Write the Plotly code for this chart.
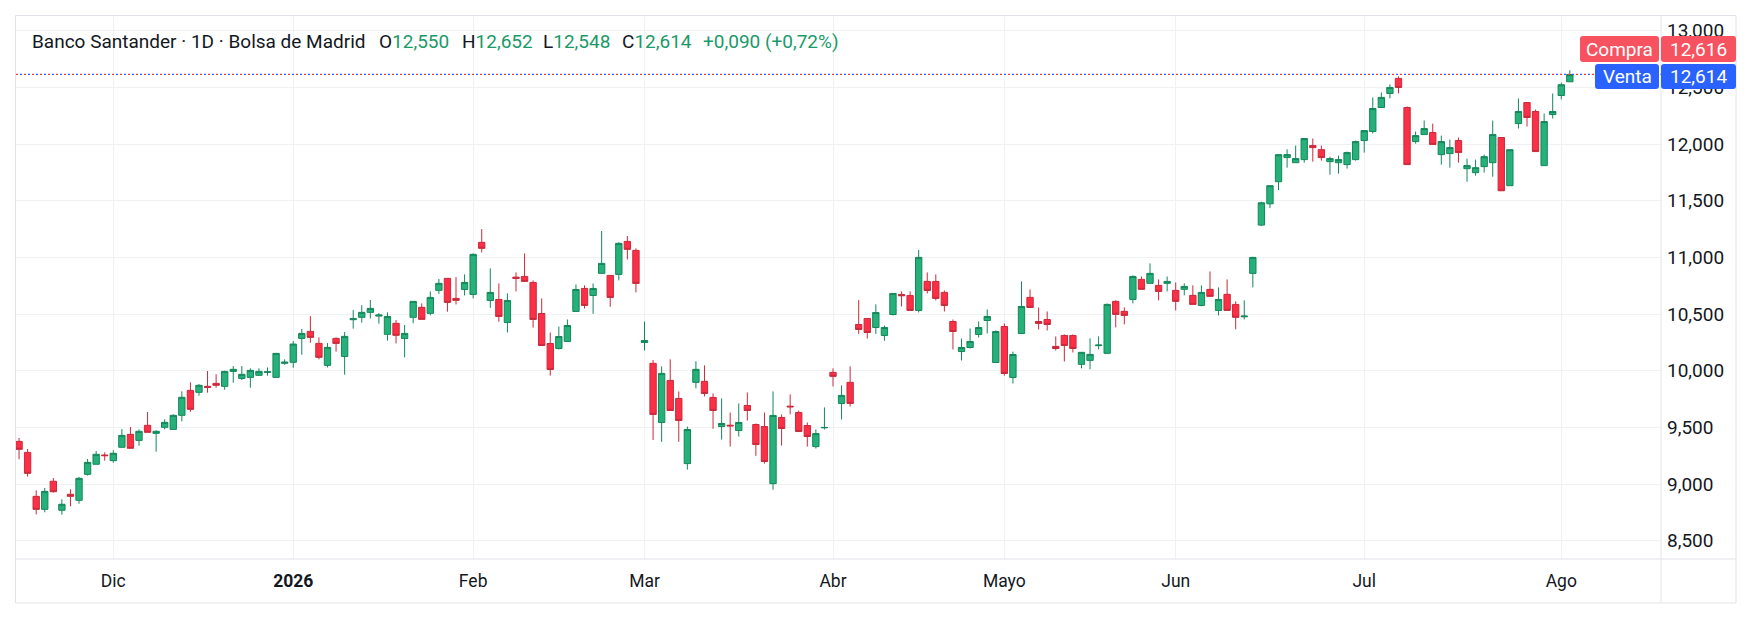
import pandas as pd
import plotly.graph_objects as go

# ---------------- data ----------------
holidays = ["2025-12-25", "2025-12-26", "2026-01-01", "2026-04-03", "2026-04-06", "2026-05-01"]
dates = [d.strftime("%Y-%m-%d") for d in pd.bdate_range("2025-11-14", "2026-08-04")
         if d.strftime("%Y-%m-%d") not in holidays]

open_ = [9.376, 9.279, 8.891, 8.776, 9.024, 8.768, 8.909, 8.856, 9.085, 9.174,
         9.256, 9.206, 9.324, 9.438, 9.385, 9.518, 9.447, 9.500, 9.482, 9.606,
         9.826, 9.809, 9.862, 9.888, 9.862, 9.994, 9.932, 9.941, 9.959, 9.985,
         9.941, 10.065, 10.074, 10.285, 10.347, 10.241, 10.047, 10.285, 10.126, 10.450,
         10.471, 10.515, 10.482, 10.321, 10.418, 10.285, 10.471, 10.559, 10.506, 10.709,
         10.815, 10.638, 10.717, 10.673, 11.133, 10.620, 10.629, 10.426, 10.826, 10.832,
         10.779, 10.505, 10.240, 10.196, 10.258, 10.523, 10.726, 10.664, 10.859, 10.841,
         10.850, 11.141, 11.062, 10.249, 10.065, 9.543, 9.914, 9.755, 9.180, 9.897,
         9.906, 9.764, 9.507, 9.519, 9.472, 9.693, 9.525, 9.507, 9.003, 9.587,
         9.687, 9.631, 9.516, 9.330, 9.496, 9.985, 9.711, 9.897, 10.408, 10.461,
         10.381, 10.311, 10.496, 10.673, 10.664, 10.532, 10.788, 10.788, 10.691, 10.434,
         10.169, 10.205, 10.320, 10.443, 10.072, 10.390, 9.940, 10.328, 10.647, 10.434,
         10.452, 10.214, 10.311, 10.311, 10.056, 10.091, 10.221, 10.153, 10.612, 10.524,
         10.629, 10.806, 10.771, 10.753, 10.771, 10.709, 10.718, 10.665, 10.576, 10.718,
         10.532, 10.674, 10.585, 10.476, 10.859, 11.285, 11.473, 11.668, 11.881, 11.836,
         11.863, 11.987, 11.951, 11.845, 11.836, 11.819, 11.863, 12.031, 12.111, 12.323,
         12.447, 12.580, 12.323, 12.022, 12.084, 12.102, 11.907, 11.916, 12.031, 11.783,
         11.748, 11.801, 11.836, 12.058, 11.633, 12.181, 12.367, 12.288, 11.810, 12.261,
         12.429, 12.550]
high = [9.406, 9.309, 8.944, 8.965, 9.053, 8.865, 8.953, 9.062, 9.221, 9.291,
        9.279, 9.297, 9.485, 9.503, 9.482, 9.635, 9.474, 9.571, 9.615, 9.818,
        9.897, 9.882, 9.997, 9.968, 10.000, 10.041, 10.041, 10.021, 10.021, 10.029,
        10.153, 10.100, 10.262, 10.368, 10.482, 10.294, 10.244, 10.294, 10.341, 10.535,
        10.579, 10.624, 10.509, 10.515, 10.447, 10.403, 10.612, 10.594, 10.700, 10.809,
        10.815, 10.826, 10.850, 11.035, 11.250, 10.903, 10.770, 10.682, 10.867, 11.035,
        10.797, 10.638, 10.337, 10.390, 10.452, 10.761, 10.753, 10.770, 11.233, 10.841,
        11.133, 11.189, 11.080, 10.434, 10.094, 10.038, 10.100, 9.817, 9.507, 10.083,
        10.047, 9.799, 9.755, 9.631, 9.711, 9.808, 9.534, 9.631, 9.817, 9.614,
        9.791, 9.649, 9.543, 9.481, 9.676, 10.021, 9.870, 10.038, 10.623, 10.461,
        10.585, 10.399, 10.682, 10.700, 10.700, 11.065, 10.867, 10.850, 10.708, 10.452,
        10.284, 10.373, 10.434, 10.540, 10.355, 10.417, 10.169, 10.788, 10.717, 10.558,
        10.523, 10.302, 10.320, 10.320, 10.165, 10.285, 10.303, 10.594, 10.621, 10.559,
        10.841, 10.832, 10.947, 10.806, 10.832, 10.779, 10.771, 10.753, 10.753, 10.876,
        10.735, 10.806, 10.612, 10.621, 11.005, 11.491, 11.633, 11.907, 11.954, 11.987,
        12.049, 12.049, 11.987, 11.889, 11.898, 11.934, 12.031, 12.119, 12.412, 12.456,
        12.527, 12.597, 12.332, 12.111, 12.208, 12.181, 12.075, 12.040, 12.058, 11.872,
        11.863, 11.907, 12.208, 12.058, 11.951, 12.403, 12.367, 12.305, 12.270, 12.447,
        12.544, 12.652]
low = [9.218, 9.065, 8.732, 8.750, 8.924, 8.729, 8.803, 8.826, 9.074, 9.174,
       9.206, 9.188, 9.324, 9.315, 9.338, 9.456, 9.285, 9.482, 9.482, 9.553,
       9.638, 9.779, 9.806, 9.850, 9.832, 9.894, 9.918, 9.850, 9.955, 9.956,
       9.941, 10.053, 10.026, 10.141, 10.247, 10.100, 10.029, 10.168, 9.965, 10.371,
       10.424, 10.462, 10.415, 10.265, 10.241, 10.118, 10.418, 10.453, 10.488, 10.679,
       10.521, 10.585, 10.664, 10.638, 11.044, 10.555, 10.432, 10.337, 10.700, 10.788,
       10.381, 10.222, 9.957, 10.187, 10.258, 10.523, 10.549, 10.502, 10.859, 10.564,
       10.797, 10.982, 10.691, 10.178, 9.389, 9.372, 9.649, 9.372, 9.127, 9.844,
       9.773, 9.487, 9.392, 9.330, 9.419, 9.560, 9.248, 9.180, 8.950, 9.339,
       9.614, 9.463, 9.330, 9.313, 9.481, 9.861, 9.569, 9.684, 10.325, 10.284,
       10.325, 10.264, 10.487, 10.567, 10.532, 10.514, 10.682, 10.620, 10.523, 10.187,
       10.090, 10.196, 10.293, 10.328, 10.072, 9.957, 9.887, 10.328, 10.558, 10.364,
       10.355, 10.178, 10.081, 10.161, 10.021, 10.012, 10.188, 10.153, 10.382, 10.409,
       10.594, 10.718, 10.771, 10.621, 10.700, 10.532, 10.665, 10.585, 10.568, 10.656,
       10.488, 10.532, 10.365, 10.453, 10.735, 11.276, 11.435, 11.594, 11.792, 11.836,
       11.836, 11.845, 11.854, 11.730, 11.739, 11.784, 11.854, 11.925, 12.093, 12.323,
       12.403, 12.447, 11.819, 12.004, 12.084, 11.996, 11.819, 11.792, 11.836, 11.668,
       11.721, 11.748, 11.712, 11.588, 11.633, 12.137, 12.155, 11.934, 11.810, 12.226,
       12.394, 12.548]
close = [9.306, 9.094, 8.776, 8.935, 8.932, 8.821, 8.891, 9.050, 9.191, 9.262,
         9.250, 9.271, 9.429, 9.315, 9.465, 9.456, 9.465, 9.544, 9.606, 9.765,
         9.659, 9.871, 9.853, 9.871, 9.994, 10.012, 9.968, 10.003, 9.994, 9.990,
         10.153, 10.076, 10.235, 10.329, 10.294, 10.118, 10.206, 10.241, 10.303, 10.459,
         10.515, 10.550, 10.491, 10.479, 10.312, 10.329, 10.612, 10.453, 10.647, 10.771,
         10.603, 10.621, 10.779, 11.027, 11.080, 10.691, 10.479, 10.620, 10.814, 10.788,
         10.452, 10.222, 10.010, 10.302, 10.399, 10.717, 10.576, 10.726, 10.947, 10.647,
         11.124, 11.071, 10.770, 10.267, 9.614, 9.976, 9.649, 9.560, 9.481, 10.012,
         9.799, 9.649, 9.534, 9.513, 9.543, 9.649, 9.348, 9.198, 9.605, 9.490,
         9.681, 9.463, 9.419, 9.445, 9.499, 9.950, 9.782, 9.711, 10.364, 10.337,
         10.514, 10.381, 10.682, 10.661, 10.532, 11.000, 10.708, 10.638, 10.576, 10.346,
         10.205, 10.258, 10.381, 10.479, 10.346, 9.975, 10.143, 10.567, 10.558, 10.417,
         10.408, 10.196, 10.222, 10.196, 10.162, 10.144, 10.226, 10.585, 10.497, 10.488,
         10.832, 10.718, 10.859, 10.700, 10.788, 10.612, 10.744, 10.585, 10.691, 10.656,
         10.629, 10.532, 10.471, 10.482, 11.000, 11.482, 11.633, 11.907, 11.907, 11.872,
         12.049, 11.969, 11.881, 11.872, 11.863, 11.925, 12.022, 12.119, 12.314, 12.412,
         12.500, 12.500, 11.819, 12.075, 12.137, 11.996, 12.022, 11.969, 11.925, 11.810,
         11.792, 11.889, 12.084, 11.588, 11.951, 12.288, 12.235, 11.934, 12.199, 12.288,
         12.524, 12.614]

tick_dates = ["2025-12-01", "2026-01-02", "2026-02-02", "2026-03-02", "2026-04-01",
              "2026-05-04", "2026-06-01", "2026-07-01", "2026-08-03"]
tick_text = ["Dic", "<b>2026</b>", "Feb", "Mar", "Abr", "Mayo", "Jun", "Jul", "Ago"]
y_ticks = [8.5, 9.0, 9.5, 10.0, 10.5, 11.0, 11.5, 12.0, 12.5, 13.0]
bid_price = 12.616
ask_price = 12.614
header_title = "Banco Santander · 1D · Bolsa de Madrid"
header_items = [("O", "12,550"), ("H", "12,652"), ("L", "12,548"), ("C", "12,614")]
header_change = "+0,090 (+0,72%)"

# ---------------- layout helpers ----------------
W, H = 1760, 620
PL, PR, PT, PB = 16, 1661, 16, 559
OUT_R, OUT_B = 1736, 603


def px(x):
    return (x - PL) / (PR - PL)


def py(y):
    return (PB - y) / (PB - PT)


def rrect(x0, y0, x1, y1, r=3):
    rx = r / (PR - PL)
    ry = r / (PB - PT)
    X0, X1 = px(x0), px(x1)
    Y0, Y1 = py(y1), py(y0)  # Y0 bottom, Y1 top
    return (f"M {X0+rx},{Y1} L {X1-rx},{Y1} Q {X1},{Y1} {X1},{Y1-ry} "
            f"L {X1},{Y0+ry} Q {X1},{Y0} {X1-rx},{Y0} L {X0+rx},{Y0} "
            f"Q {X0},{Y0} {X0},{Y0+ry} L {X0},{Y1-ry} Q {X0},{Y1} {X0+rx},{Y1} Z")


UP_FILL, UP_LINE = "#26b07a", "#14875a"
DN_FILL, DN_LINE = "#fb3046", "#c92a3c"
TXT = "#131722"
GREEN_TXT = "#1a9a68"
FONT = "Roboto"
HDR_SIZE = 19
AX_Y_SIZE = 19
AX_X_SIZE = 17.5

fig = go.Figure()
fig.add_trace(go.Candlestick(
    x=dates, open=open_, high=high, low=low, close=close,
    increasing=dict(fillcolor=UP_FILL, line=dict(color=UP_LINE, width=1)),
    decreasing=dict(fillcolor=DN_FILL, line=dict(color=DN_LINE, width=1)),
    whiskerwidth=0, showlegend=False, hoverinfo="x+y",
))

shapes = []
# price lines (dotted red/blue)
line_y = (bid_price + ask_price) / 2
shapes.append(dict(type="line", xref="paper", yref="y", x0=0, x1=1, y0=line_y, y1=line_y,
                   line=dict(color="#f23645", width=1.2, dash="2px,6px"), layer="above"))
shapes.append(dict(type="line", xref="paper", yref="y", x0=0, x1=1, y0=line_y, y1=line_y,
                   line=dict(color="#2962ff", width=1.2, dash="0px,4px,2px,2px"), layer="above"))
# frame
LINE_C = "#e0e3eb"
shapes.append(dict(type="rect", xref="paper", yref="paper", x0=px(15.5), x1=px(OUT_R), y0=py(OUT_B), y1=py(15.5),
                   line=dict(color=LINE_C, width=1), layer="above"))
shapes.append(dict(type="line", xref="paper", yref="paper", x0=1, x1=1, y0=py(OUT_B), y1=py(15.5),
                   line=dict(color=LINE_C, width=1), layer="above"))
shapes.append(dict(type="line", xref="paper", yref="paper", x0=px(15.5), x1=px(OUT_R), y0=0, y1=0,
                   line=dict(color=LINE_C, width=1), layer="above"))
# bid / ask labels
RED_BOX, BLUE_BOX = "#f7525f", "#2962ff"
shapes.append(dict(type="path", xref="paper", yref="paper", path=rrect(1580, 36, 1659, 62),
                   fillcolor=RED_BOX, line=dict(width=0), layer="above"))
shapes.append(dict(type="path", xref="paper", yref="paper", path=rrect(1661, 36, 1736, 62),
                   fillcolor=RED_BOX, line=dict(width=0), layer="above"))
shapes.append(dict(type="path", xref="paper", yref="paper", path=rrect(1595, 64, 1659, 89),
                   fillcolor=BLUE_BOX, line=dict(width=0), layer="above"))
shapes.append(dict(type="path", xref="paper", yref="paper", path=rrect(1661, 64, 1736, 89),
                   fillcolor=BLUE_BOX, line=dict(width=0), layer="above"))

annotations = []


def box_text(text, x, y):
    annotations.append(dict(text=text, xref="paper", yref="paper", x=px(x), y=py(y),
                            xanchor="center", yanchor="middle", showarrow=False,
                            font=dict(color="white", size=AX_Y_SIZE, family=FONT)))


box_text("Compra", 1619.5, 49.5)
box_text(f"{bid_price:.3f}".replace(".", ","), 1698.5, 49.5)
box_text("Venta", 1627, 76.5)
box_text(f"{ask_price:.3f}".replace(".", ","), 1698.5, 76.5)

# header
annotations.append(dict(text=header_title, xref="paper", yref="paper", x=px(30), y=py(41),
                        xanchor="left", yanchor="middle", showarrow=False,
                        font=dict(color=TXT, size=HDR_SIZE, family=FONT)))
hx = [377, 460, 541, 620]
for (lab, val), x in zip(header_items, hx):
    annotations.append(dict(text=f"{lab}<span style='color:{GREEN_TXT}'>{val}</span>", xref="paper", yref="paper",
                            x=px(x), y=py(41), xanchor="left", yanchor="middle", showarrow=False,
                            font=dict(color=TXT, size=HDR_SIZE, family=FONT)))
annotations.append(dict(text=header_change, xref="paper", yref="paper", x=px(701), y=py(41),
                        xanchor="left", yanchor="middle", showarrow=False,
                        font=dict(color=GREEN_TXT, size=HDR_SIZE, family=FONT)))

GRID = "#f0f1f3"
fig.update_layout(
    width=W, height=H, autosize=False,
    margin=dict(l=PL, r=W - PR, t=PT, b=H - PB, pad=0),
    paper_bgcolor="white", plot_bgcolor="white",
    separators=",.",
    boxgap=0.26, boxgroupgap=0,
    shapes=shapes, annotations=annotations,
    showlegend=False,
    font=dict(family=FONT, color=TXT, size=15),
    xaxis=dict(type="category", range=[-0.356, 191.64], rangeslider=dict(visible=False),
               tickmode="array", tickvals=tick_dates, ticktext=tick_text,
               showgrid=True, gridcolor=GRID, gridwidth=1, zeroline=False, showline=False,
               ticks="", ticklabelstandoff=9,
               tickfont=dict(size=AX_X_SIZE, color=TXT, family=FONT)),
    yaxis=dict(side="right", range=[8.338, 13.1306], tickmode="array", tickvals=y_ticks,
               tickformat=".3f", showgrid=True, gridcolor=GRID, gridwidth=1, zeroline=False,
               showline=False, ticks="", ticklabelstandoff=5,
               tickfont=dict(size=AX_Y_SIZE, color=TXT, family=FONT)),
)

fig.write_html("out.html", config={"displayModeBar": False},
               post_script="document.body.style.margin='0';document.body.style.overflow='hidden';")
